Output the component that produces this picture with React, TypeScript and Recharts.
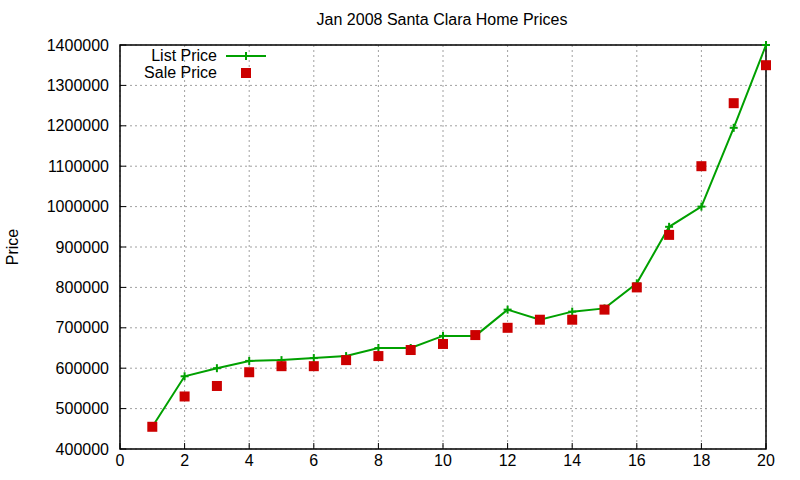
import React from 'react'
import { ComposedChart, Line, Scatter, XAxis, YAxis, CartesianGrid, ReferenceArea } from 'recharts'

const houses = [1, 2, 3, 4, 5, 6, 7, 8, 9, 10, 11, 12, 13, 14, 15, 16, 17, 18, 19, 20]
const listPrice = [455000, 580000, 600000, 618000, 620000, 625000, 630000, 650000, 650000, 680000, 680000, 745000, 720000, 740000, 748000, 810000, 950000, 1000000, 1195000, 1400000]
const salePrice = [455000, 530000, 556000, 590000, 605000, 605000, 620000, 630000, 645000, 660000, 682000, 700000, 720000, 720000, 745000, 800000, 930000, 1100000, 1256000, 1350000]
const xTicks = [0, 2, 4, 6, 8, 10, 12, 14, 16, 18, 20]
const yTicks = [400000, 500000, 600000, 700000, 800000, 900000, 1000000, 1100000, 1200000, 1300000, 1400000]

const data = houses.map((x, i) => ({ x, list: listPrice[i], sale: salePrice[i] }))

const GREEN = '#00a000'
const RED = '#cc0000'
const FONT = '"Liberation Sans", Arial, sans-serif'

const Plus = (props: any) => {
  const { cx, cy } = props
  if (cx == null || cy == null) return null
  return (
    <g stroke={GREEN} strokeWidth={2}>
      <line x1={cx - 4} y1={cy} x2={cx + 4} y2={cy} />
      <line x1={cx} y1={cy - 4} x2={cx} y2={cy + 4} />
    </g>
  )
}

const Square = (props: any) => {
  const { cx, cy } = props
  if (cx == null || cy == null) return null
  return <rect x={cx - 5} y={cy - 5} width={10} height={10} fill={RED} />
}

// legend drawn like gnuplot's key: text right-aligned, sample to the right
const LegendBox = () => (
  <svg width={180} height={40} style={{ fontFamily: FONT, fontSize: 16, display: 'block' }}>
    <text x={118} y={14} textAnchor="end" fill="#000">List Price</text>
    <line x1={127} y1={9} x2={167} y2={9} stroke={GREEN} strokeWidth={2} />
    <Plus cx={147} cy={9} />
    <text x={118} y={31} textAnchor="end" fill="#000">Sale Price</text>
    <Square cx={147} cy={26} />
  </svg>
)

const App = () => {
  return (
    <div style={{ position: 'absolute', left: 0, top: 0, width: 800, height: 480, background: '#fff', fontFamily: FONT }}>
      <div style={{ position: 'absolute', top: 11, left: 0, width: 884, textAlign: 'center', fontSize: 16, color: '#000' }}>
        Jan 2008 Santa Clara Home Prices
      </div>
      <ComposedChart width={800} height={480} data={data} margin={{ top: 45, right: 34, bottom: 1, left: 8 }}>
        <CartesianGrid stroke="#a0a0a0" strokeDasharray="2 3" />
        <XAxis
          dataKey="x"
          type="number"
          domain={[0, 20]}
          ticks={xTicks}
          height={30}
          axisLine={false}
          tickLine={{ stroke: '#000' }}
          tickSize={-6}
          tickMargin={12}
          tick={{ fill: '#000', fontSize: 16, fontFamily: FONT }}
        />
        <YAxis
          type="number"
          domain={[400000, 1400000]}
          ticks={yTicks}
          width={112}
          axisLine={false}
          tickLine={{ stroke: '#000' }}
          tickSize={-6}
          tickMargin={17}
          tick={{ fill: '#000', fontSize: 16, fontFamily: FONT }}
          label={{
            content: (p: any) => {
              const vb = p.viewBox
              const x = vb.x + 4
              const y = vb.y + vb.height / 2
              return (
                <text x={x} y={y} transform={`rotate(-90 ${x} ${y})`} textAnchor="middle" dominantBaseline="central" fontSize={16} fontFamily={FONT} fill="#000">
                  Price
                </text>
              )
            },
          }}
        />
        <ReferenceArea x1={0} x2={20} y1={400000} y2={1400000} fill="none" stroke="#000" strokeWidth={1.5} ifOverflow="visible" />
        <Line dataKey="list" stroke={GREEN} strokeWidth={2} dot={<Plus />} activeDot={false} isAnimationActive={false} />
        <Scatter dataKey="sale" fill={RED} shape={<Square />} isAnimationActive={false} />
      </ComposedChart>
      <div style={{ position: 'absolute', left: 99, top: 47 }}>
        <LegendBox />
      </div>
    </div>
  )
}

export default App
